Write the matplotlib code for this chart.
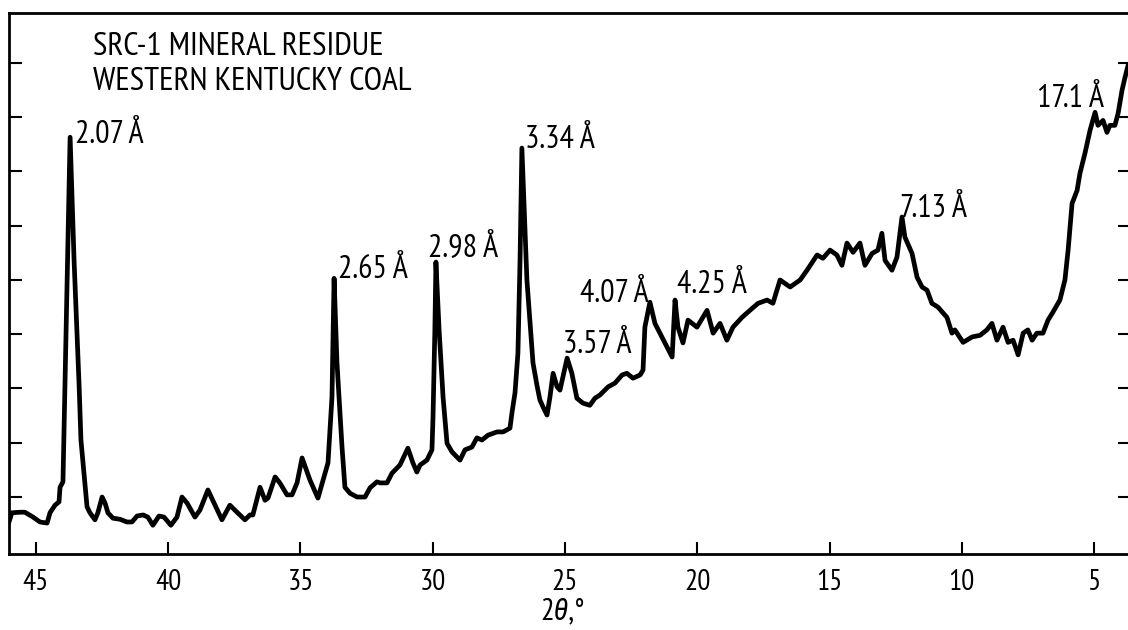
import matplotlib
matplotlib.use('Agg')
import matplotlib.pyplot as plt

# diffractogram trace (2-theta in degrees, intensity in tick units)
two_theta = [46.02, 45.91, 45.60, 45.42, 45.11, 44.85, 44.58, 44.47, 44.28, 44.13,
             44.09, 43.98, 43.71, 43.56, 43.37, 43.30, 43.07, 42.96, 42.77, 42.66,
             42.50, 42.39, 42.28, 42.09, 41.82, 41.56, 41.37, 41.18, 40.95, 40.77,
             40.58, 40.35, 40.16, 39.90, 39.67, 39.48, 39.29, 38.99, 38.80, 38.50,
             38.23, 37.97, 37.67, 37.40, 37.10, 36.91, 36.80, 36.53, 36.34, 36.23,
             35.96, 35.78, 35.51, 35.32, 35.13, 34.94, 34.64, 34.34, 33.96, 33.81,
             33.73, 33.62, 33.43, 33.32, 33.13, 32.86, 32.56, 32.37, 32.11, 31.99,
             31.73, 31.54, 31.24, 30.94, 30.75, 30.60, 30.48, 30.22, 30.03, 29.99,
             29.92, 29.88, 29.76, 29.61, 29.46, 29.27, 28.97, 28.78, 28.52, 28.33,
             28.14, 27.91, 27.57, 27.34, 27.08, 27.00, 26.89, 26.78, 26.70, 26.63,
             26.44, 26.21, 26.06, 25.95, 25.83, 25.68, 25.57, 25.45, 25.30, 25.19,
             24.92, 24.74, 24.55, 24.32, 24.06, 23.87, 23.68, 23.37, 23.11, 22.84,
             22.66, 22.43, 22.16, 22.05, 21.98, 21.79, 21.60, 21.41, 21.14, 20.95,
             20.84, 20.73, 20.54, 20.35, 20.01, 19.63, 19.40, 19.14, 18.88, 18.65,
             18.31, 18.01, 17.70, 17.36, 17.14, 16.87, 16.49, 16.11, 15.85, 15.47,
             15.25, 14.98, 14.72, 14.53, 14.34, 14.11, 13.85, 13.66, 13.39, 13.17,
             13.02, 12.90, 12.64, 12.45, 12.26, 12.15, 11.88, 11.69, 11.50, 11.31,
             11.13, 10.90, 10.56, 10.37, 10.26, 9.95, 9.61, 9.31, 9.05, 8.86,
             8.67, 8.44, 8.25, 8.06, 7.87, 7.68, 7.50, 7.34, 7.16, 6.93,
             6.74, 6.55, 6.29, 6.10, 5.98, 5.83, 5.64, 5.53, 5.34, 5.15,
             4.96, 4.85, 4.66, 4.51, 4.40, 4.21, 4.09, 3.94, 3.83, 3.71]
intensity = [0.54, 0.71, 0.72, 0.72, 0.63, 0.54, 0.52, 0.71, 0.85, 0.91,
             1.18, 1.28, 7.63, 5.36, 3.06, 2.05, 0.82, 0.71, 0.58, 0.71,
             1.00, 0.89, 0.71, 0.61, 0.59, 0.54, 0.54, 0.65, 0.67, 0.63,
             0.48, 0.65, 0.63, 0.48, 0.63, 1.00, 0.89, 0.63, 0.76, 1.13,
             0.85, 0.58, 0.85, 0.72, 0.58, 0.67, 0.67, 1.18, 0.94, 0.98,
             1.37, 1.26, 1.04, 1.04, 1.26, 1.72, 1.31, 0.98, 1.63, 2.84,
             5.03, 3.47, 1.92, 1.18, 1.07, 1.00, 1.00, 1.17, 1.28, 1.26,
             1.26, 1.44, 1.59, 1.90, 1.63, 1.46, 1.59, 1.68, 1.87, 2.47,
             4.08, 5.33, 4.08, 2.84, 1.99, 1.83, 1.68, 1.87, 1.92, 2.09,
             2.05, 2.14, 2.20, 2.20, 2.27, 2.57, 2.92, 3.65, 5.36, 7.43,
             5.00, 3.47, 3.06, 2.79, 2.66, 2.51, 2.84, 3.28, 3.03, 2.97,
             3.56, 3.28, 2.82, 2.73, 2.69, 2.82, 2.88, 3.03, 3.10, 3.25,
             3.28, 3.19, 3.25, 3.34, 4.13, 4.59, 4.20, 4.02, 3.76, 3.58,
             4.63, 4.13, 3.84, 4.26, 4.13, 4.44, 4.02, 4.20, 3.89, 4.13,
             4.31, 4.44, 4.57, 4.63, 4.57, 5.00, 4.87, 5.00, 5.18, 5.46,
             5.40, 5.55, 5.46, 5.27, 5.68, 5.51, 5.68, 5.27, 5.49, 5.55,
             5.86, 5.36, 5.18, 5.42, 6.16, 5.79, 5.49, 5.05, 4.87, 4.81,
             4.57, 4.50, 4.31, 4.02, 4.08, 3.85, 3.95, 3.98, 4.08, 4.20,
             3.89, 4.13, 3.85, 3.89, 3.62, 4.02, 4.08, 3.89, 4.02, 4.02,
             4.26, 4.41, 4.63, 5.00, 5.55, 6.41, 6.65, 6.97, 7.34, 7.76,
             8.09, 7.85, 7.94, 7.72, 7.85, 7.85, 8.07, 8.50, 8.73, 8.96]

# d-spacing labels and where their left/baseline sits
peak_labels = ['2.07 Å', '2.65 Å', '2.98 Å', '3.34 Å', '3.57 Å', '4.07 Å', '4.25 Å', '7.13 Å', '17.1 Å']
label_x = [43.53, 33.58, 30.18, 26.51, 25.08, 24.43, 20.77, 12.33, 7.15]
label_y = [7.52, 5.03, 5.42, 7.43, 3.65, 4.59, 4.76, 6.16, 8.18]

xticks = [45, 40, 35, 30, 25, 20, 15, 10, 5]
yticks = [1, 2, 3, 4, 5, 6, 7, 8, 9]

plt.rcParams['font.family'] = ['PT Sans Narrow', 'Roboto Condensed', 'Liberation Sans', 'DejaVu Sans']

fig = plt.figure(figsize=(11.28, 6.3), dpi=100)
ax = fig.add_axes([9 / 1128, 76 / 630, 1121 / 1128, 541 / 630])

ax.plot(two_theta, intensity, color='black', lw=3.4, solid_joinstyle='round')

ax.set_xlim(46.02, 3.64)
ax.set_ylim(-0.05, 9.92)

ax.set_xticks(xticks)
ax.set_xticklabels([str(t) for t in xticks], fontsize=21)
ax.set_yticks(yticks)
ax.tick_params(axis='x', direction='in', length=9, width=1.5, pad=11)
ax.tick_params(axis='y', direction='in', length=9, width=1.5,
               left=True, right=True, labelleft=False)
for s in ax.spines.values():
    s.set_linewidth(2)

for lab, x, y in zip(peak_labels, label_x, label_y):
    ax.text(x, y, lab, fontsize=23, ha='left', va='baseline')

ax.text(0.075, 0.922, 'SRC-1 MINERAL RESIDUE', transform=ax.transAxes,
        fontsize=24, ha='left', va='baseline')
ax.text(0.075, 0.858, 'WESTERN KENTUCKY COAL', transform=ax.transAxes,
        fontsize=24, ha='left', va='baseline')

fig.text(563 / 1128, 1 - 619 / 630, '2θ,°', fontsize=22, ha='center',
         va='baseline', style='italic')

fig.savefig('out.png', dpi=100)
